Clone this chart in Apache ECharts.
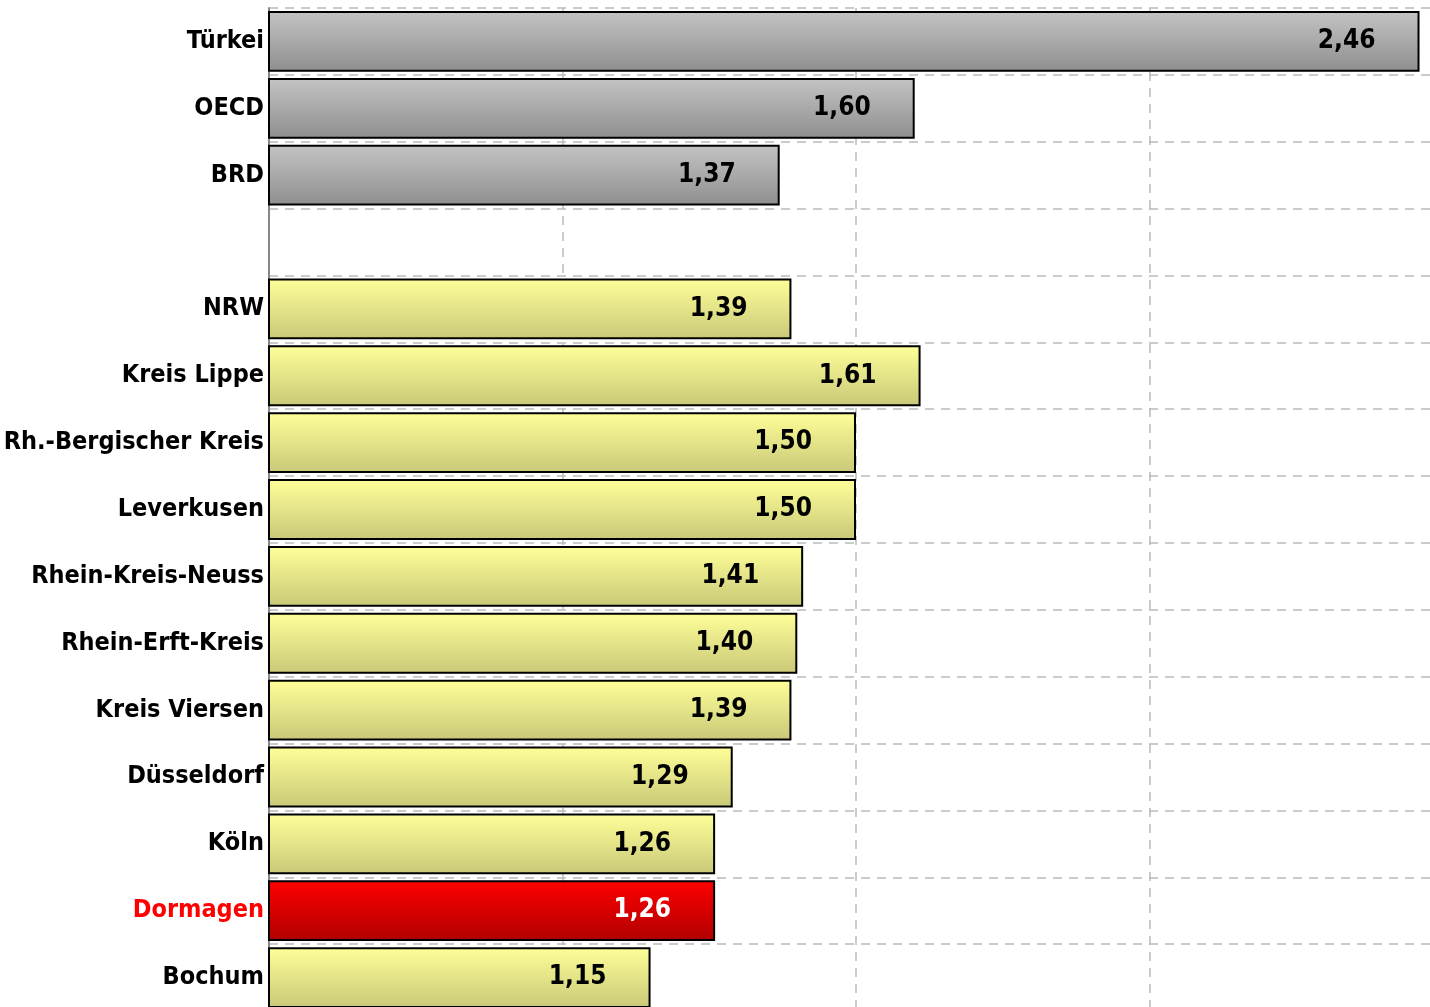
<!DOCTYPE html>
<html>
<head>
<meta charset="utf-8">
<style>
  html, body { margin: 0; padding: 0; background: #fff; }
  #chart { width: 1430px; height: 1007px; }
</style>
<script src="https://cdn.jsdelivr.net/npm/echarts@6/dist/echarts.min.js"></script>
</head>
<body>
<div id="chart"></div>
<script>
// Kategorien (von oben nach unten)
var categories = ['Türkei', 'OECD', 'BRD', '', 'NRW', 'Kreis Lippe', 'Rh.-Bergischer Kreis', 'Leverkusen',
  'Rhein-Kreis-Neuss', 'Rhein-Erft-Kreis', 'Kreis Viersen', 'Düsseldorf', 'Köln', 'Dormagen', 'Bochum']
var values = [2.46, 1.60, 1.37, null, 1.39, 1.61, 1.50, 1.50, 1.41, 1.40, 1.39, 1.29, 1.26, 1.26, 1.15]
// Farbgruppe je Balken: g = grau, y = gelb, r = rot
var groups = ['g', 'g', 'g', '', 'y', 'y', 'y', 'y', 'y', 'y', 'y', 'y', 'y', 'r', 'y']
var xTicks = [0.5, 1.0, 1.5, 2.0, 2.5]

var fills = {
  g: ['#c4c4c4', '#8e8e8e'],
  y: ['#ffff99', '#c8c878'],
  r: ['#ff0000', '#b00000']
}

function grad(c) {
  return new echarts.graphic.LinearGradient(0, 0, 0, 1, [
    { offset: 0, color: c[0] },
    { offset: 1, color: c[1] }
  ])
}

var barData = values.map(function(v, i) {
  if (v === null) return '-'
  return {
    value: v,
    itemStyle: { color: grad(fills[groups[i]]) },
    label: { color: groups[i] === 'r' ? '#ffffff' : '#000000' }
  }
})

var chart = echarts.init(document.getElementById('chart'))
var font = '"Liberation Sans Narrow", "DejaVu Sans Condensed", "Arial Narrow", sans-serif'
var option = {
  animation: false,
  grid: { left: 269, top: 8, width: 1174, height: 1003, containLabel: false, outerBoundsMode: 'none' },
  xAxis: {
    type: 'value',
    min: xTicks[0],
    max: xTicks[xTicks.length - 1],
    interval: 0.5,
    axisLabel: { show: false },
    axisTick: { show: false },
    axisLine: { show: false },
    splitLine: { show: true, lineStyle: { color: '#bbbbbb', type: [9, 7], width: 1.5 } }
  },
  yAxis: {
    type: 'category',
    inverse: true,
    data: categories,
    axisTick: { show: false },
    axisLine: { show: true, lineStyle: { color: '#888888', width: 2 } },
    splitLine: { show: true, lineStyle: { color: '#bbbbbb', type: [9, 7], width: 1.5 } },
    axisLabel: {
      margin: 5,
      fontFamily: font,
      fontWeight: 'bold',
      fontSize: 25,
      color: function(val, idx) {
        return val === 'Dormagen' ? '#ff0000' : '#000000'
      }
    }
  },
  series: [
    {
      type: 'bar',
      data: barData,
      barCategoryGap: '9%',
      itemStyle: { borderColor: '#000000', borderWidth: 2 },
      label: {
        show: true,
        position: 'insideRight',
        distance: 44,
        fontFamily: font,
        fontWeight: 'bold',
        fontSize: 26,
        formatter: function(p) {
          return p.value.toFixed(2).replace('.', ',')
        }
      }
    }
  ]
}
chart.setOption(option)
</script>
</body>
</html>
